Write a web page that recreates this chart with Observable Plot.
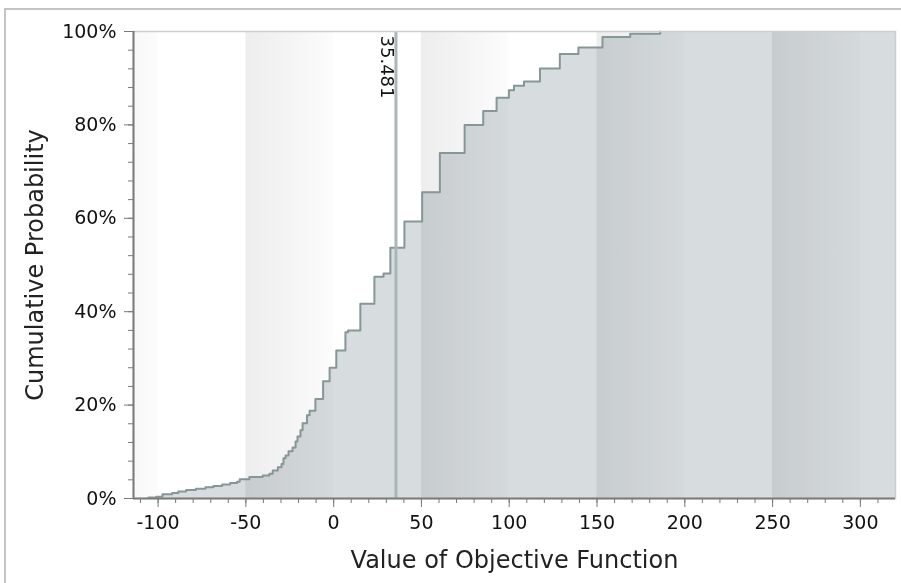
<!DOCTYPE html>
<html><head><meta charset="utf-8">
<script src="https://cdn.jsdelivr.net/npm/d3@7"></script>
<script src="https://cdn.jsdelivr.net/npm/@observablehq/plot@0.6"></script>
<style>
body{margin:0;background:#fff;}
#wrap{position:relative;width:901px;height:583px;overflow:hidden;}
#outer{position:absolute;left:4px;top:8px;width:1000px;height:1000px;border-top:2px solid #c4c4c4;border-left:2px solid #c4c4c4;pointer-events:none;}
</style></head><body>
<div id="wrap"><div id="outer"></div></div>
<script>
// Cumulative distribution (step-after)
const objectiveValues = [-105.5,-101.0,-97.5,-92.0,-88.5,-84.0,-78.5,-73.0,-68.5,-63.5,-59.0,-55.0,-53.5,-48.0,-40.4,-36.6,-34.7,-31.8,-29.7,-28.6,-27.4,-25.7,-23.4,-21.7,-20.6,-18.9,-17.7,-15.2,-13.7,-10.4,-6.0,-2.3,1.5,6.7,8.2,15.2,23.2,28.4,32.3,40.3,50.4,60.5,74.6,85.2,92.8,99.8,102.7,108.4,117.5,128.8,139.4,153.1,168.9,186.0];
const cumulativeProb = [0.002,0.004,0.009,0.012,0.015,0.018,0.021,0.024,0.027,0.030,0.033,0.036,0.041,0.046,0.049,0.053,0.060,0.067,0.074,0.086,0.092,0.101,0.109,0.122,0.133,0.146,0.161,0.178,0.188,0.213,0.251,0.280,0.317,0.356,0.360,0.417,0.475,0.482,0.537,0.593,0.656,0.740,0.800,0.830,0.858,0.874,0.884,0.893,0.921,0.952,0.966,0.988,0.995,1.0];
const markerValue = 35.481;
const xMajorTicks = [-100,-50,0,50,100,150,200,250,300];
const xMinorTicks = [-110,-100,-90,-80,-70,-60,-50,-40,-30,-20,-10,0,10,20,30,40,50,60,70,80,90,100,110,120,130,140,150,160,170,180,190,200,210,220,230,240,250,260,270,280,290,300,310];
const yMajorTicks = [0,0.2,0.4,0.6,0.8,1];
const yMinorTicks = [0,0.04,0.08,0.12,0.16,0.2,0.24,0.28,0.32,0.36,0.4,0.44,0.48,0.52,0.56,0.6,0.64,0.68,0.72,0.76,0.8,0.84,0.88,0.92,0.96,1];
const bandStart = [-150,-50,50,150,250];
const bandEnd = [-100,0,100,200,300];
const xTitle = "Value of Objective Function";
const yTitle = "Cumulative Probability";

const data = objectiveValues.map((v, i) => ({v, p: cumulativeProb[i]}));
const areaData = [...data, {v: 320, p: 1}];
const bands = bandStart.map((s, i) => ({x1: s, x2: bandEnd[i]}));
const font = '"DejaVu Sans", sans-serif';
const ink = "#111";
const axisGray = "#7a7a7a";

const svg = Plot.plot({
  width: 901, height: 583,
  marginLeft: 133, marginRight: 6, marginTop: 31, marginBottom: 85,
  style: {fontFamily: font, fontSize: "19px", color: ink, background: "transparent"},
  x: {domain: [-114, 320]},
  y: {domain: [0, 1]},
  marks: [
    Plot.rect(bands, {x1: "x1", x2: "x2", y1: 0, y2: 1, fill: "url(#bandGrad)", clip: true}),
    Plot.areaY(areaData, {x: "v", y: "p", curve: "step-after", fill: "#d7dcdf", mixBlendMode: "multiply"}),
    Plot.lineY(data, {x: "v", y: "p", curve: "step-after", stroke: "#879696", strokeWidth: 2}),
    Plot.ruleX([markerValue], {y1: 0, y2: 1, stroke: "#a9b7bb", strokeWidth: 3}),
    Plot.text([markerValue], {x: d => d, y: 1, text: d => d3.format(".3f")(d), rotate: 90, textAnchor: "start", lineAnchor: "top", dx: -2, dy: 4, fontSize: 18, fill: ink}),
    Plot.frame({stroke: "#cdcdcd", strokeWidth: 1.5}),
    Plot.ruleY([0], {stroke: axisGray, strokeWidth: 2}),
    Plot.ruleX([-114], {stroke: axisGray, strokeWidth: 2}),
    Plot.axisX(xMinorTicks, {tickSize: 5, tickFormat: () => "", stroke: axisGray, label: null}),
    Plot.axisX(xMajorTicks, {tickSize: 9, tickPadding: 8, tickFormat: d => String(d), stroke: axisGray, fill: ink, label: null}),
    Plot.axisY(yMinorTicks, {tickSize: 5, tickFormat: () => "", stroke: axisGray, label: null}),
    Plot.axisY(yMajorTicks, {tickSize: 9, tickPadding: 8, tickFormat: d => Math.round(d * 100) + "%", stroke: axisGray, fill: ink, label: null}),
    Plot.text([xTitle], {frameAnchor: "bottom", text: d => d, dy: 69, fontSize: 24, fill: "#222"}),
    Plot.text([yTitle], {frameAnchor: "left", textAnchor: "middle", text: d => d, rotate: -90, dx: -98, fontSize: 24, fill: "#222"})
  ]
});

const ns = "http://www.w3.org/2000/svg";
const defs = document.createElementNS(ns, "defs");
const grad = document.createElementNS(ns, "linearGradient");
grad.setAttribute("id", "bandGrad");
grad.setAttribute("x1", "0"); grad.setAttribute("x2", "1");
grad.setAttribute("y1", "0"); grad.setAttribute("y2", "0");
[["0", "#ededed"], ["1", "#fcfcfc"]].forEach(([o, c]) => {
  const s = document.createElementNS(ns, "stop");
  s.setAttribute("offset", o); s.setAttribute("stop-color", c);
  grad.appendChild(s);
});
defs.appendChild(grad);
svg.insertBefore(defs, svg.firstChild);
document.getElementById("wrap").appendChild(svg);
</script>
</body></html>
